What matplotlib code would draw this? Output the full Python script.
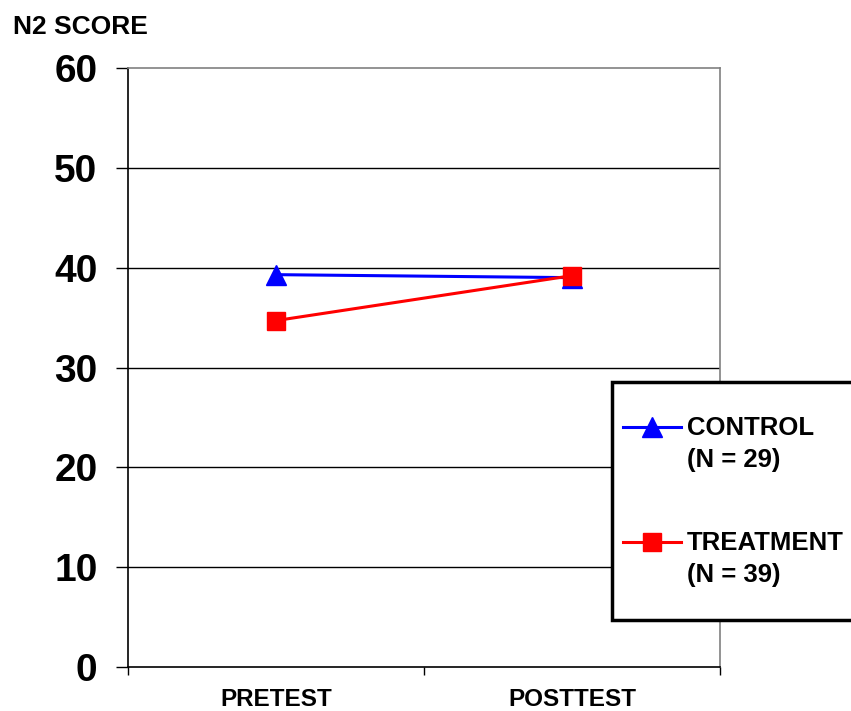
import matplotlib.pyplot as plt
from matplotlib.patches import Rectangle
from matplotlib.lines import Line2D

plt.rcParams['font.family'] = ['Liberation Sans', 'DejaVu Sans']
plt.rcParams['font.weight'] = 'bold'

phases = ['PRETEST', 'POSTTEST']
control = [39.3, 39.0]
treatment = [34.7, 39.2]
control_label = ['CONTROL', '(N = 29)']
treatment_label = ['TREATMENT', '(N = 39)']
y_ticks = [0, 10, 20, 30, 40, 50, 60]

W, H = 851, 711
fig = plt.figure(figsize=(8.51, 7.11), dpi=100)
ax = fig.add_axes([128/W, 1-667/H, (720-128)/W, (667-68)/H])

x = list(range(len(phases)))
ax.plot(x, control, color='#0000ff', lw=2.2, marker='^', ms=14, zorder=3)
ax.plot(x, treatment, color='#ff0000', lw=2.2, marker='s', ms=13.5, zorder=4)

ax.set_xlim(-0.5, len(phases) - 0.5)
ax.set_ylim(0, 60)
ax.set_yticks(y_ticks)
ax.set_yticklabels([str(t) for t in y_ticks], fontsize=28, fontweight='bold')
ax.set_xticks(x)
ax.set_xticklabels(phases, fontsize=17.5, fontweight='bold')
ax.set_xticks([-0.5, 0.5, 1.5], minor=True)
ax.tick_params(axis='x', which='major', length=0, pad=15)
ax.tick_params(axis='x', which='minor', length=6, width=1, color='black')
ax.tick_params(axis='y', length=9, width=1, pad=13, color='black')

for y in y_ticks[1:-1]:
    ax.axhline(y, color='black', lw=1, zorder=1)

ax.spines['left'].set_color('black')
ax.spines['bottom'].set_color('black')
ax.spines['top'].set_color('#808080')
ax.spines['right'].set_color('#808080')
for s in ax.spines.values():
    s.set_linewidth(1.2)

fig.text(13/W, 1-34/H, 'N2 SCORE', fontsize=19, fontweight='bold', va='baseline')

# legend box hanging off the right edge
box = Rectangle((612/W, 1-620/H), (870-612)/W, (620-382)/H,
                transform=fig.transFigure, facecolor='white', edgecolor='black',
                lw=2.5, zorder=10, clip_on=False)
fig.patches.append(box)

entries = [(control_label, '#0000ff', '^', 14, 427),
           (treatment_label, '#ff0000', 's', 13.5, 542)]
for label, color, mk, ms, yc in entries:
    fig.lines.append(Line2D([623/W, 681/W], [1-yc/H]*2, transform=fig.transFigure,
                            color=color, lw=2.2, zorder=11))
    fig.lines.append(Line2D([652/W], [1-yc/H], transform=fig.transFigure,
                            color=color, marker=mk, ms=ms, zorder=12))
    fig.text(687/W, 1-(yc+8)/H, label[0], fontsize=18.5, fontweight='bold',
             va='baseline', zorder=12)
    fig.text(687/W, 1-(yc+40)/H, label[1], fontsize=18.5, fontweight='bold',
             va='baseline', zorder=12)

fig.savefig('out.png', dpi=100)
